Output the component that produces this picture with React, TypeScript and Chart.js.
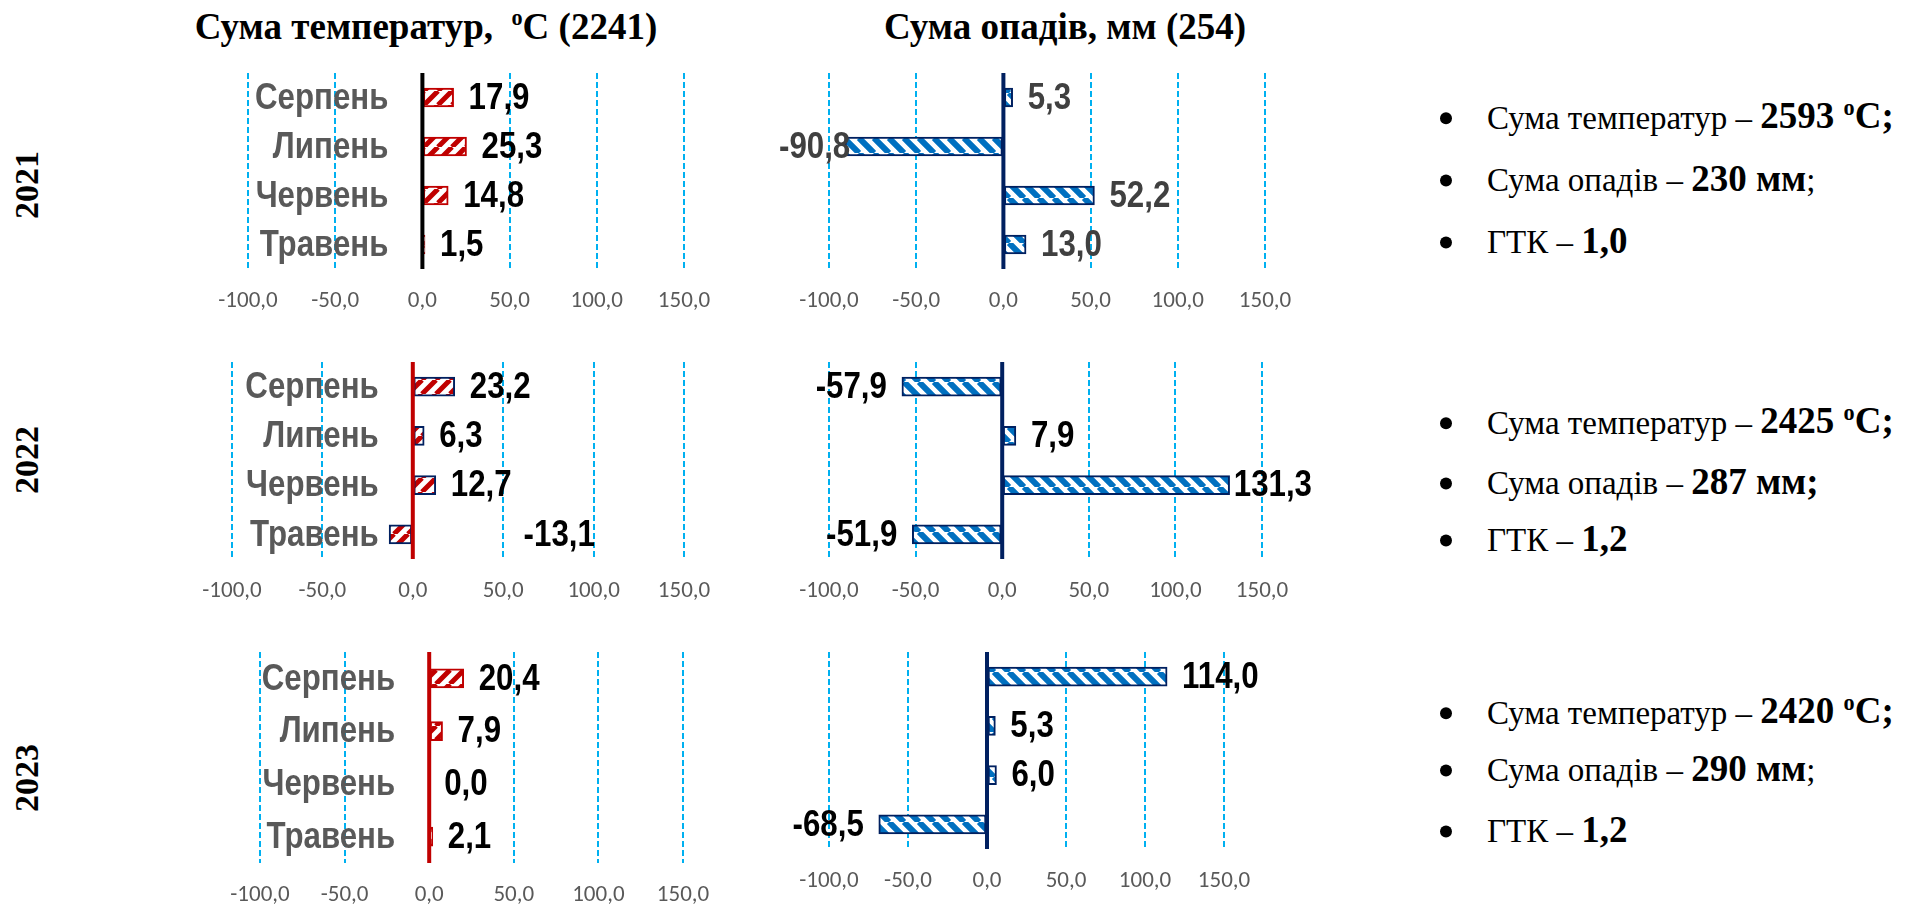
import React, { useEffect, useRef } from 'react';
import { Chart, registerables } from 'chart.js';

Chart.register(...registerables);

// Months, bottom to top (Травень first, as in the source table)
const months = ['Травень', 'Червень', 'Липень', 'Серпень'];

// Deviations from the long-term norm
const temp2021 = [1.5, 14.8, 25.3, 17.9];
const precip2021 = [13.0, 52.2, -90.8, 5.3];
const temp2022 = [-13.1, 12.7, 6.3, 23.2];
const precip2022 = [-51.9, 131.3, 7.9, -57.9];
const temp2023 = [2.1, 0.0, 7.9, 20.4];
const precip2023 = [-68.5, 6.0, 5.3, 114.0];

// Axis range
const axisMin = -100;
const axisMax = 150;
const axisStep = 50;

// Norms shown in the column titles
const tempNorm = '2241';
const precipNorm = '254';

// Seasonal summaries
const years = ['2021', '2022', '2023'];
const tempTotals = ['2593', '2425', '2420'];
const precipTotals = ['230', '287', '290'];
const htcValues = ['1,0', '1,2', '1,2'];

const SERIF = '"Liberation Serif", "Times New Roman", serif';
const SANS = '"Liberation Sans", Arial, sans-serif';
const TICK_FAMILY = 'Carlito, Lato, "Open Sans", sans-serif';
const LABEL_FONT = `bold 37px ${SANS}`;
// horizontal squeeze for the condensed bold labels
const SQUEEZE = 0.845;

const PAD_X = 90;
const PAD_TOP = 10;
const AXIS_H = 54;

const fmt = (v: number) => v.toFixed(1).replace('.', ',');

type Panel = {
  kind: 'temp' | 'precip';
  values: number[];
  x0: number;
  x1: number;
  top: number;
  bottom: number;
  axisColor: string;
  borderColor: string;
  valueColor: string;
  pinned?: { index: number; at: number };
};

const panels: Panel[] = [
  { kind: 'temp', values: temp2021, x0: 248, x1: 684, top: 73, bottom: 269, axisColor: '#000000', borderColor: '#C00000', valueColor: '#000000' },
  { kind: 'precip', values: precip2021, x0: 829, x1: 1265, top: 73, bottom: 269, axisColor: '#002060', borderColor: '#002060', valueColor: '#404040' },
  // the May label sits away from its bar, out on the right
  { kind: 'temp', values: temp2022, x0: 232, x1: 684, top: 362, bottom: 559, axisColor: '#C00000', borderColor: '#002060', valueColor: '#000000', pinned: { index: 0, at: 81 } },
  { kind: 'precip', values: precip2022, x0: 829, x1: 1262, top: 362, bottom: 559, axisColor: '#002060', borderColor: '#002060', valueColor: '#000000' },
  { kind: 'temp', values: temp2023, x0: 260, x1: 683, top: 652, bottom: 863, axisColor: '#C00000', borderColor: '#C00000', valueColor: '#000000' },
  { kind: 'precip', values: precip2023, x0: 829, x1: 1224, top: 652, bottom: 849, axisColor: '#002060', borderColor: '#002060', valueColor: '#000000' },
];

function makeHatch(kind: 'temp' | 'precip'): CanvasPattern | string {
  const s = kind === 'temp' ? 14 : 15;
  const c = document.createElement('canvas');
  c.width = s;
  c.height = s;
  const g = c.getContext('2d');
  if (!g) return '#ffffff';
  g.fillStyle = '#ffffff';
  g.fillRect(0, 0, s, s);
  g.strokeStyle = kind === 'temp' ? '#C00000' : '#0070C0';
  g.lineWidth = kind === 'temp' ? 5 : 6;
  g.beginPath();
  for (let k = -1; k <= 1; k++) {
    if (kind === 'temp') {
      // "/" stripes
      g.moveTo(k * s, s);
      g.lineTo(k * s + s, 0);
    } else {
      // "\" stripes
      g.moveTo(k * s, 0);
      g.lineTo(k * s + s, s);
    }
  }
  g.stroke();
  const p = g.createPattern(c, 'repeat');
  return p || '#ffffff';
}

function squeezedText(ctx: CanvasRenderingContext2D, text: string, x: number, y: number) {
  ctx.save();
  ctx.translate(x, y);
  ctx.scale(SQUEEZE, 1);
  ctx.fillText(text, 0, 0);
  ctx.restore();
}

function decorations(p: Panel) {
  return {
    id: 'decorations',
    afterDatasetsDraw(chart: any) {
      const ctx = chart.ctx as CanvasRenderingContext2D;
      const xs = chart.scales.x;
      const ys = chart.scales.y;
      const area = chart.chartArea;
      const zero = xs.getPixelForValue(0);
      ctx.save();
      // zero axis line
      ctx.strokeStyle = p.axisColor;
      ctx.lineWidth = 4;
      ctx.beginPath();
      ctx.moveTo(zero, area.top);
      ctx.lineTo(zero, area.bottom);
      ctx.stroke();

      ctx.font = LABEL_FONT;
      ctx.textBaseline = 'middle';
      if (p.kind === 'temp') {
        ctx.fillStyle = '#595959';
        ctx.textAlign = 'right';
        months.forEach((m, i) => squeezedText(ctx, m, zero - 34, ys.getPixelForValue(i) + 1));
      }
      ctx.fillStyle = p.valueColor;
      ctx.textAlign = 'left';
      p.values.forEach((v, i) => {
        const text = fmt(v);
        const w = ctx.measureText(text).width * SQUEEZE;
        const y = ys.getPixelForValue(i) + 1;
        let left: number;
        if (p.pinned && p.pinned.index === i) {
          left = xs.getPixelForValue(p.pinned.at) - w / 2;
        } else {
          const end = xs.getPixelForValue(v);
          left = v < 0 ? end - 15 - w : end + 15;
        }
        left = Math.max(area.left - 50, Math.min(area.right + 50 - w, left));
        squeezedText(ctx, text, left, y);
      });
      ctx.restore();
    },
  };
}

function PanelChart({ panel }: { panel: Panel }) {
  const ref = useRef<HTMLCanvasElement | null>(null);
  const width = panel.x1 - panel.x0 + 2 * PAD_X;
  const height = panel.bottom - panel.top + PAD_TOP + AXIS_H;

  useEffect(() => {
    if (!ref.current) return;
    const chart = new Chart(ref.current, {
      type: 'bar',
      data: {
        labels: months,
        datasets: [
          {
            data: panel.values,
            backgroundColor: makeHatch(panel.kind) as any,
            borderColor: panel.borderColor,
            borderWidth: 2,
            borderSkipped: false,
            barThickness: 19,
          },
        ],
      },
      options: {
        indexAxis: 'y',
        responsive: false,
        animation: false,
        events: [],
        layout: { padding: { left: PAD_X, right: PAD_X, top: PAD_TOP, bottom: 0 } },
        plugins: { legend: { display: false }, tooltip: { enabled: false } },
        scales: {
          x: {
            type: 'linear',
            min: axisMin,
            max: axisMax,
            ticks: {
              stepSize: axisStep,
              padding: 18,
              color: '#595959',
              font: { family: TICK_FAMILY, size: 23 },
              callback: (v: any) => fmt(Number(v)),
            },
            grid: {
              color: (c: any) => (c.tick && c.tick.value === 0 ? 'rgba(0,0,0,0)' : '#00B0F0'),
              lineWidth: 2,
              drawTicks: false,
            },
            border: { display: false, dash: [6, 3] },
            afterFit: (s: any) => {
              s.height = AXIS_H;
            },
          },
          y: { type: 'category', reverse: true, display: false },
        },
      } as any,
      plugins: [decorations(panel)],
    });
    return () => chart.destroy();
  }, [panel]);

  return (
    <canvas
      ref={ref}
      width={width}
      height={height}
      style={{ position: 'absolute', left: panel.x0 - PAD_X, top: panel.top - PAD_TOP, width, height }}
    />
  );
}

const centered = (x: number, y: number): React.CSSProperties => ({
  position: 'absolute',
  left: x,
  top: y,
  transform: 'translate(-50%, -50%)',
  whiteSpace: 'nowrap',
  fontFamily: SERIF,
  lineHeight: 1,
  color: '#000',
});

const yearCenters = [185, 460, 778];
const summaryRows = [
  [116, 178, 240],
  [421, 481, 538],
  [711, 768, 829],
];

function Summary({ i }: { i: number }) {
  const rows = summaryRows[i];
  const line = (y: number, content: React.ReactNode) => (
    <div
      style={{
        position: 'absolute',
        left: 1440,
        top: y,
        transform: 'translateY(-50%)',
        whiteSpace: 'nowrap',
        fontFamily: SERIF,
        fontSize: 33,
        lineHeight: 1,
        color: '#000',
      }}
    >
      <span
        style={{
          display: 'inline-block',
          width: 12,
          height: 12,
          borderRadius: '50%',
          background: '#000',
          marginRight: 35,
          verticalAlign: '0.12em',
        }}
      />
      {content}
    </div>
  );
  const bold = { fontWeight: 700, fontSize: 37 } as React.CSSProperties;
  return (
    <>
      {line(
        rows[0],
        <>
          Сума температур – <span style={bold}>{tempTotals[i]} <sup style={{ fontSize: '0.6em' }}>o</sup>C;</span>
        </>
      )}
      {line(
        rows[1],
        <>
          Сума опадів – <span style={bold}>{precipTotals[i]} мм{i === 1 ? ';' : ''}</span>
          {i === 1 ? '' : ';'}
        </>
      )}
      {line(
        rows[2],
        <>
          ГТК – <span style={bold}>{htcValues[i]}</span>
        </>
      )}
    </>
  );
}

export default function App() {
  return (
    <div
      style={{
        position: 'absolute',
        left: 0,
        top: 0,
        width: 1908,
        height: 906,
        overflow: 'hidden',
        background: '#ffffff',
      }}
    >
      <div style={{ ...centered(426, 26), fontSize: 37, fontWeight: 700 }}>
        Сума температур,&nbsp; <sup style={{ fontSize: '0.6em' }}>o</sup>C ({tempNorm})
      </div>
      <div style={{ ...centered(1065, 26), fontSize: 37, fontWeight: 700 }}>
        Сума опадів, мм ({precipNorm})
      </div>
      {years.map((y, i) => (
        <div
          key={y}
          style={{
            ...centered(27, yearCenters[i]),
            transform: 'translate(-50%, -50%) rotate(-90deg)',
            fontSize: 34,
            fontWeight: 700,
          }}
        >
          {y}
        </div>
      ))}
      {panels.map((p, i) => (
        <PanelChart key={i} panel={p} />
      ))}
      {years.map((y, i) => (
        <Summary key={y} i={i} />
      ))}
    </div>
  );
}
